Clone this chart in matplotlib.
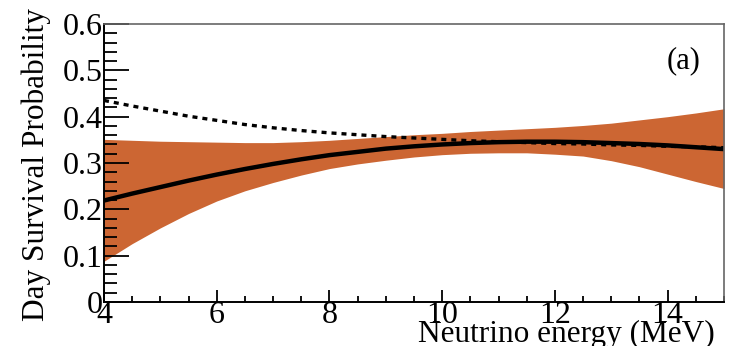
import matplotlib
matplotlib.use("Agg")
import matplotlib.pyplot as plt
from matplotlib.ticker import MultipleLocator

energy = [4, 4.5, 5, 5.5, 6, 6.5, 7, 7.5, 8, 8.5, 9, 9.5, 10, 10.5, 11, 11.5,
          12, 12.5, 13, 13.5, 14, 14.5, 15]
best_fit = [0.219, 0.234, 0.248, 0.262, 0.275, 0.287, 0.298, 0.308, 0.317, 0.324,
            0.331, 0.336, 0.340, 0.343, 0.345, 0.346, 0.346, 0.345, 0.343, 0.341,
            0.338, 0.334, 0.330]
band_upper = [0.351, 0.349, 0.347, 0.346, 0.345, 0.344, 0.344, 0.346, 0.349, 0.353,
              0.357, 0.361, 0.364, 0.368, 0.371, 0.374, 0.377, 0.381, 0.386, 0.393,
              0.400, 0.408, 0.417]
band_lower = [0.088, 0.126, 0.160, 0.191, 0.218, 0.240, 0.258, 0.274, 0.288, 0.298,
              0.306, 0.313, 0.318, 0.321, 0.322, 0.322, 0.319, 0.315, 0.305, 0.292,
              0.276, 0.260, 0.245]
dotted_curve = [0.435, 0.423, 0.412, 0.401, 0.392, 0.383, 0.376, 0.370, 0.365, 0.361,
                0.357, 0.354, 0.351, 0.348, 0.346, 0.344, 0.342, 0.341, 0.339, 0.338,
                0.336, 0.335, 0.333]

plt.rcParams['font.family'] = ['Liberation Serif', 'DejaVu Serif']

fig = plt.figure(figsize=(7.34, 3.46), dpi=100)
ax = fig.add_axes([104/734, 44/346, 620/734, 278/346])

ax.fill_between(energy, band_lower, band_upper, color='#cc6633', linewidth=0)
ax.plot(energy, best_fit, color='black', linewidth=3.2, solid_capstyle='butt')
ax.plot(energy, dotted_curve, color='black', linewidth=2.4, linestyle=(0, (1.5, 1.5)))

ax.set_xlim(4, 15)
ax.set_ylim(0, 0.6)
ax.xaxis.set_minor_locator(MultipleLocator(0.5))
ax.yaxis.set_minor_locator(MultipleLocator(0.02))
ax.set_yticks([0, 0.1, 0.2, 0.3, 0.4, 0.5, 0.6])
ax.set_yticklabels(['0', '0.1', '0.2', '0.3', '0.4', '0.5', '0.6'])
ax.set_xticks([4, 6, 8, 10, 12, 14])
ax.set_xticklabels(['4', '6', '8', '10', '12', '14'])

ax.tick_params(axis='both', which='both', direction='in', top=False, right=False,
               labelsize=23, width=1.3, color='black')
ax.tick_params(axis='y', which='major', length=18, pad=1)
ax.tick_params(axis='y', which='minor', length=9)
ax.tick_params(axis='x', which='major', length=9, pad=-1)
ax.tick_params(axis='x', which='minor', length=4.5)

for s in ['left', 'bottom']:
    ax.spines[s].set_color('black')
    ax.spines[s].set_linewidth(1.4)
for s in ['top', 'right']:
    ax.spines[s].set_color('#666666')
    ax.spines[s].set_linewidth(1.2)

fig.text(715/734, 1 - 349/346, 'Neutrino energy (MeV)', ha='right', va='bottom', fontsize=22.5)
fig.text(36/734, 1 - 8/346, 'Day Survival Probability', ha='center', va='top', rotation=90, fontsize=22.5)
ax.text(0.935, 0.867, '(a)', transform=ax.transAxes, ha='center', va='center', fontsize=22)

fig.savefig('out.png', dpi=100)
